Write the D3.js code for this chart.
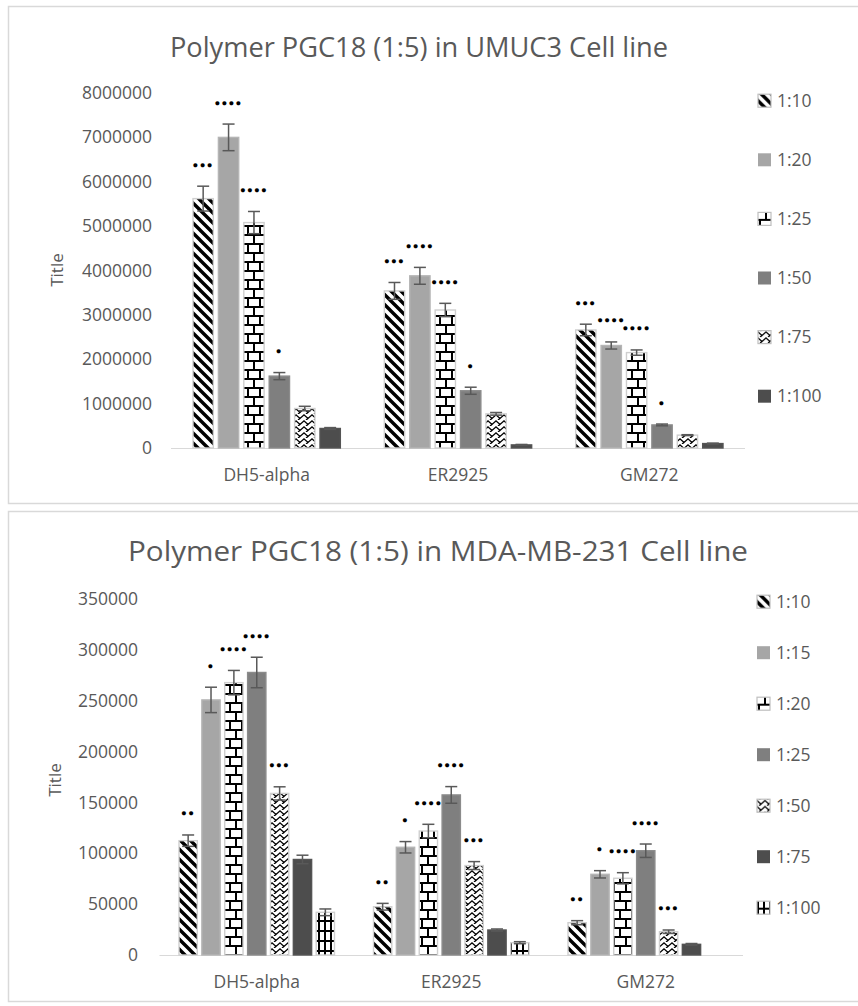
<!DOCTYPE html>
<html>
<head>
<meta charset="utf-8">
<script src="https://cdn.jsdelivr.net/npm/d3@7"></script>
<style>
  body { margin: 0; background: #fff; }
  text { font-family: "Open Sans", "Noto Sans", sans-serif; fill: #595959; }
</style>
</head>
<body>
<svg id="chart" width="858" height="1006"></svg>
<script>
// ---- Data -------------------------------------------------------------
const categories = ["DH5-alpha", "ER2925", "GM272"];

// UMUC3 cell line
const umucSeries = ["1:10", "1:20", "1:25", "1:50", "1:75", "1:100"];
const umucDH5   = [5620000, 7000000, 5080000, 1620000, 890000, 440000];
const umucER    = [3540000, 3880000, 3110000, 1290000, 770000, 70000];
const umucGM    = [2660000, 2310000, 2150000, 520000, 290000, 100000];
const umucDH5Err = [280000, 300000, 250000, 80000, 50000, 20000];
const umucERErr  = [190000, 190000, 150000, 80000, 30000, 10000];
const umucGMErr  = [130000, 80000, 60000, 20000, 10000, 10000];
const umucStars  = ["***", "****", "****", "*", "", ""];
const umucTicks  = [0, 1000000, 2000000, 3000000, 4000000, 5000000, 6000000, 7000000, 8000000];

// MDA-MB-231 cell line
const mdaSeries = ["1:10", "1:15", "1:20", "1:25", "1:50", "1:75", "1:100"];
const mdaDH5   = [112500, 251000, 268000, 278000, 159000, 94000, 42000];
const mdaER    = [47500, 106000, 122000, 157500, 88000, 24600, 12100];
const mdaGM    = [31800, 79400, 75500, 102600, 22900, 10500, 0];
const mdaDH5Err = [5600, 12500, 12000, 15000, 6500, 4200, 3300];
const mdaERErr  = [3300, 5600, 6600, 8200, 3900, 1000, 1000];
const mdaGMErr  = [2000, 3600, 5500, 6600, 1700, 800, 0];
const mdaStars  = ["**", "*", "****", "****", "***", "", ""];
const mdaTicks  = [0, 50000, 100000, 150000, 200000, 250000, 300000, 350000];

// ---- Fill patterns ----------------------------------------------------
const svg = d3.select("#chart");
svg.append("rect").attr("width", 858).attr("height", 1006).attr("fill", "#fff");
const defs = svg.append("defs");

function pattern(id, w, h, draw) {
  const p = defs.append("pattern").attr("id", id)
    .attr("patternUnits", "userSpaceOnUse").attr("width", w).attr("height", h);
  p.append("rect").attr("width", w).attr("height", h).attr("fill", "#fff");
  draw(p);
}
pattern("stripe", 10, 10, p => p.append("path")
  .attr("d", "M-5,-5L15,15M-5,5L5,15M5,-5L15,5")
  .attr("stroke", "#000").attr("stroke-width", 3.4).attr("fill", "none"));
pattern("brick", 12, 18, p => p.append("path")
  .attr("d", "M0,1H12M0,10H12M2,1V10M8,10V19M8,-8V1")
  .attr("stroke", "#000").attr("stroke-width", 2).attr("fill", "none"));
pattern("zigzag", 8, 6, p => p.append("path")
  .attr("d", "M-1,0L4,4.5L9,0M-1,6L4,10.5L9,6M2,6L4,4.5")
  .attr("stroke", "#000").attr("stroke-width", 1.3).attr("fill", "none"));
pattern("grid", 6, 10, p => p.append("path")
  .attr("d", "M1,0V10M0,1H6")
  .attr("stroke", "#000").attr("stroke-width", 2).attr("fill", "none"));

const fills = {
  stripe: "url(#stripe)", brick: "url(#brick)", zigzag: "url(#zigzag)", grid: "url(#grid)",
  light: "#a6a6a6", mid: "#7f7f7f", dark: "#4d4d4d"
};

// ---- Panel drawing ----------------------------------------------------
function drawPanel(cfg) {
  const g = svg.append("g");

  g.append("rect")
    .attr("x", cfg.panel[0]).attr("y", cfg.panel[1])
    .attr("width", cfg.panel[2]).attr("height", cfg.panel[3])
    .attr("fill", "#fff").attr("stroke", "#d9d9d9").attr("stroke-width", 1.5);

  g.append("text")
    .attr("x", cfg.titlePos[0]).attr("y", cfg.titlePos[1])
    .attr("text-anchor", "middle")
    .attr("font-size", 27)
    .attr("textLength", cfg.titleWidth).attr("lengthAdjust", "spacingAndGlyphs")
    .text(cfg.title);

  const y = d3.scaleLinear().domain([0, d3.max(cfg.ticks)]).range(cfg.yRange);
  const x0 = d3.scaleBand().domain(categories).range(cfg.xRange);
  const x1 = d3.scaleBand().domain(cfg.series)
    .range([cfg.groupInset, x0.bandwidth() - cfg.groupInset])
    .paddingInner(0.2);

  // value axis (labels only)
  const yAxis = g.append("g")
    .attr("transform", `translate(${cfg.tickRight},0)`)
    .call(d3.axisLeft(y).tickValues(cfg.ticks).tickSize(0).tickPadding(0).tickFormat(d3.format("d")));
  yAxis.select(".domain").remove();
  yAxis.attr("font-family", null);
  yAxis.selectAll("text").attr("font-size", 17.5).attr("fill", "#595959");

  // category axis
  g.append("line")
    .attr("x1", cfg.xRange[0]).attr("x2", cfg.xRange[1])
    .attr("y1", y(0) + 0.5).attr("y2", y(0) + 0.5)
    .attr("stroke", "#d9d9d9").attr("stroke-width", 1.2);
  g.selectAll(".cat").data(categories).join("text")
    .attr("x", d => x0(d) + x0.bandwidth() / 2)
    .attr("y", cfg.catY)
    .attr("text-anchor", "middle").attr("dy", "0.35em")
    .attr("font-size", 17.5)
    .text(d => d);

  g.append("text")
    .attr("transform", `translate(${cfg.axisTitle[0]},${cfg.axisTitle[1]}) rotate(-90)`)
    .attr("text-anchor", "middle").attr("dy", "0.35em")
    .attr("font-size", 17)
    .text("Title");

  // bars, error bars and significance marks
  const rows = [];
  categories.forEach((c, ci) => {
    cfg.series.forEach((s, si) => {
      rows.push({ c, s, si, v: cfg.values[ci][si], e: cfg.errors[ci][si], star: cfg.stars[si] });
    });
  });
  const isPattern = f => f.startsWith("url");

  g.selectAll(".bar").data(rows.filter(d => d.v > 0)).join("rect")
    .attr("x", d => x0(d.c) + x1(d.s))
    .attr("y", d => y(d.v))
    .attr("width", x1.bandwidth())
    .attr("height", d => y(0) - y(d.v))
    .attr("fill", d => fills[cfg.fills[d.si]])
    .attr("stroke", d => isPattern(fills[cfg.fills[d.si]]) ? "#cfcfcf" : d3.color(fills[cfg.fills[d.si]]).brighter(0.25))
    .attr("stroke-width", 1.4);

  const cap = 6;
  const eb = g.selectAll(".err").data(rows.filter(d => d.e > 0)).join("g")
    .attr("stroke", "#595959").attr("stroke-width", 1.5);
  const cx = d => x0(d.c) + x1(d.s) + x1.bandwidth() / 2;
  eb.append("line").attr("x1", cx).attr("x2", cx)
    .attr("y1", d => y(d.v + d.e)).attr("y2", d => y(d.v - d.e));
  eb.append("line").attr("x1", d => cx(d) - cap).attr("x2", d => cx(d) + cap)
    .attr("y1", d => y(d.v + d.e)).attr("y2", d => y(d.v + d.e));
  eb.append("line").attr("x1", d => cx(d) - cap).attr("x2", d => cx(d) + cap)
    .attr("y1", d => y(d.v - d.e)).attr("y2", d => y(d.v - d.e));

  // significance: asterisks drawn as heavy dots
  g.selectAll(".star").data(rows.filter(d => d.star)).join("text")
    .attr("x", cx)
    .attr("y", d => y(d.v + d.e) - 22 + 3.5)
    .attr("text-anchor", "middle")
    .attr("font-family", "DejaVu Sans")
    .attr("font-size", 9.5)
    .attr("letter-spacing", 1.3)
    .style("fill", "#000")
    .text(d => d.star.replace(/\*/g, "\u25CF"));

  // legend
  const lg = g.selectAll(".leg").data(cfg.series).join("g")
    .attr("transform", (d, i) => `translate(${cfg.legend.x},${cfg.legend.y0 + i * cfg.legend.step})`);
  lg.append("rect")
    .attr("x", 0).attr("y", -6.5).attr("width", 13).attr("height", 13)
    .attr("fill", (d, i) => fills[cfg.fills[i]])
    .attr("stroke", (d, i) => isPattern(fills[cfg.fills[i]]) ? "#bfbfbf" : "none")
    .attr("stroke-width", 1.2);
  lg.append("text")
    .attr("x", 19).attr("dy", "0.35em")
    .attr("font-size", 17.5)
    .text(d => d);
}

drawPanel({
  panel: [8.5, 6.5, 870, 497],
  title: "Polymer PGC18 (1:5) in UMUC3 Cell line",
  titlePos: [419, 57], titleWidth: 498,
  series: umucSeries,
  values: [umucDH5, umucER, umucGM],
  errors: [umucDH5Err, umucERErr, umucGMErr],
  stars: umucStars,
  ticks: umucTicks,
  fills: ["stripe", "light", "brick", "mid", "zigzag", "dark"],
  yRange: [448, 93],
  xRange: [171, 745],
  groupInset: 22,
  tickRight: 152,
  catY: 475,
  axisTitle: [57, 270],
  legend: { x: 758, y0: 100.7, step: 59.1 }
});

drawPanel({
  panel: [8.5, 511.5, 870, 490],
  title: "Polymer PGC18 (1:5) in MDA-MB-231 Cell line",
  titlePos: [438, 561], titleWidth: 620,
  series: mdaSeries,
  values: [mdaDH5, mdaER, mdaGM],
  errors: [mdaDH5Err, mdaERErr, mdaGMErr],
  stars: mdaStars,
  ticks: mdaTicks,
  fills: ["stripe", "light", "brick", "mid", "zigzag", "dark", "grid"],
  yRange: [955, 599.3],
  xRange: [159.5, 743],
  groupInset: 19.5,
  tickRight: 138,
  catY: 982,
  axisTitle: [55, 780],
  legend: { x: 757, y0: 601.7, step: 51 }
});
</script>
</body>
</html>
